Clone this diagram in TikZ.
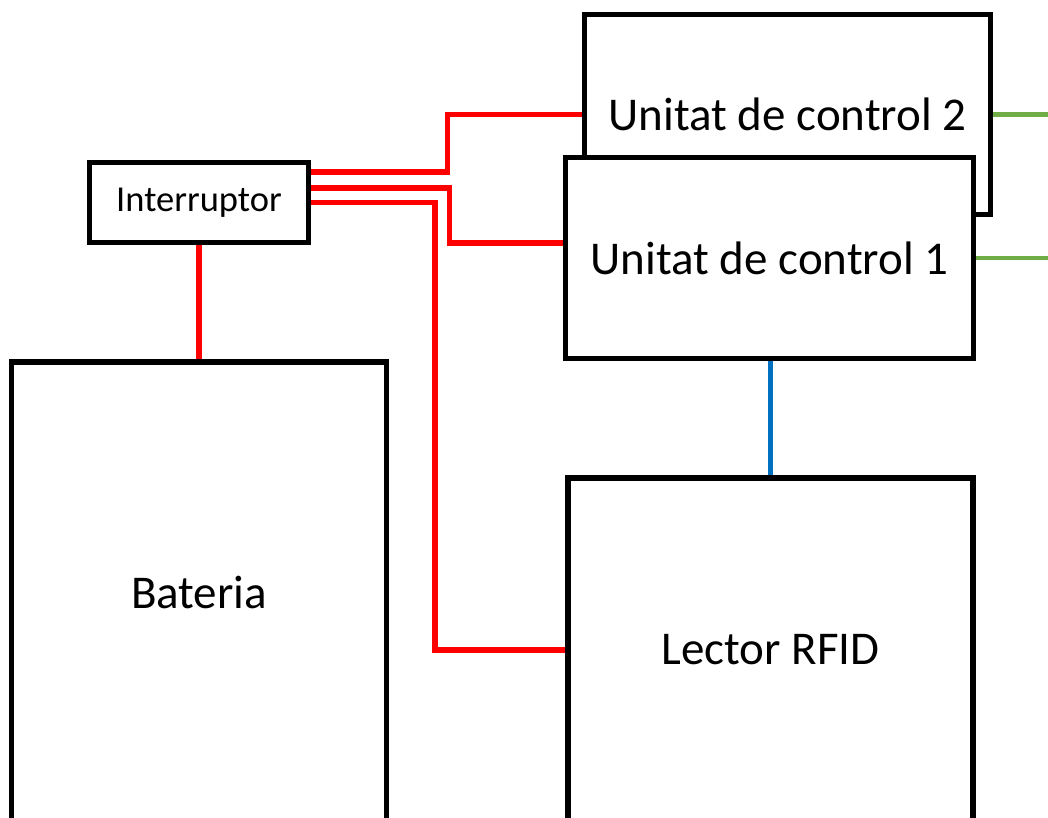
\documentclass[tikz,border=0pt]{standalone}
\usepackage{fontspec}
\setmainfont{Carlito}
\usetikzlibrary{calc,backgrounds}
\definecolor{wred}{RGB}{255,0,0}
\definecolor{wgreen}{RGB}{112,173,71}
\definecolor{wblue}{RGB}{0,112,192}
\begin{document}
\begin{tikzpicture}[x=1pt,y=-1pt,
  box/.style={draw=black,line width=5.5pt,fill=white,inner sep=0pt,
    font=\fontsize{47}{56}\selectfont},
  smallbox/.style={box,font=\fontsize{36.5}{44}\selectfont},
  redw/.style={draw=wred,line width=5.5pt},
  greenw/.style={draw=wgreen,line width=4.5pt},
  bluew/.style={draw=wblue,line width=4.5pt}]
\useasboundingbox (0,0) rectangle (1048,818);
% boxes
\node[smallbox,minimum width=219pt,minimum height=80pt] (intr) at (199,202.5) {Interruptor};
\node[box,minimum width=375pt,minimum height=460pt] (bat) at (199,592) {Bateria};
\node[box,minimum width=406pt,minimum height=200pt] (uc2) at (787.5,114.5) {Unitat de control 2};
\node[box,minimum width=408pt,minimum height=201pt] (uc1) at (769.5,258) {Unitat de control 1};
\node[box,minimum width=405pt,minimum height=344pt] (lector) at (770.5,650) {Lector RFID};
\coordinate (g2) at (1060,114.5);
\coordinate (g1) at (1060,258);
% connectors
\begin{pgfonlayer}{background}
\fill[white] (0,0) rectangle (1048,818);
\draw[redw] (intr.south) -- (bat.north);
\draw[redw] ($(intr.east)+(0,-30.5)$) -| ($(uc2.west)+(-134.5,0)$) -- (uc2.west);
\draw[redw] ($(intr.east)+(0,-14.5)$) -| ($(uc1.west)+(-113.5,-15)$) -- ($(uc1.west)+(0,-15)$);
\draw[redw] (intr.east) -| ($(lector.west)+(-130.5,0)$) -- (lector.west);
\draw[greenw] (uc2.east) -- (g2);
\draw[greenw] (uc1.east) -- (g1);
\draw[bluew] (lector.north) -- (lector.north |- uc1.south);
\end{pgfonlayer}
\end{tikzpicture}
\end{document}
